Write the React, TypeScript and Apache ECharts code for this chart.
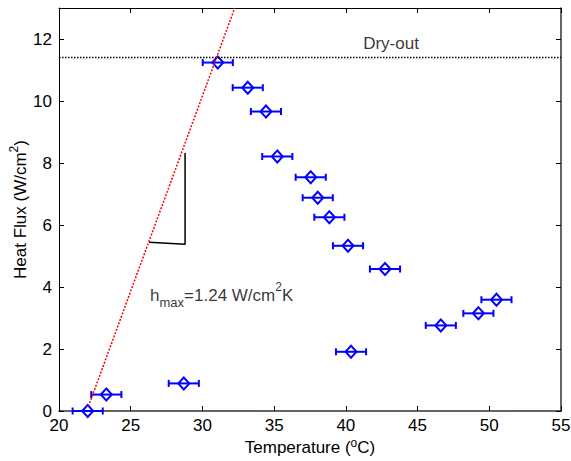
import React, { useEffect, useRef } from "react";
import * as echarts from "echarts";

// Measured data: temperature (°C) vs heat flux (W/cm²), horizontal error bars (°C)
const temperature = [22.0, 23.3, 28.7, 31.07, 33.16, 34.43, 35.22, 37.55, 38.04, 38.85, 40.15, 42.73, 50.5, 49.24, 46.62, 40.36];
const heatFlux = [0, 0.53, 0.89, 11.24, 10.43, 9.66, 8.21, 7.54, 6.88, 6.25, 5.33, 4.58, 3.59, 3.15, 2.76, 1.91];
const tempError = [1.05, 1.05, 1.05, 1.05, 1.05, 1.05, 1.05, 1.05, 1.05, 1.05, 1.05, 1.05, 1.05, 1.05, 1.05, 1.05];

// Linear fit (h_max) line endpoints
const fitLineX = [22.05, 32.25];
const fitLineY = [0.15, 13.0];

// Dry-out level
const dryOutFlux = 11.4;
const dryOutX = [20, 55];

// Slope triangle
const triangleX = [26.28, 28.79, 28.79];
const triangleY = [5.44, 5.38, 8.32];

// Annotation anchors
const dryOutLabelPos = [43.15, 11.4];
const hmaxLabelPos = [26.35, 3.74];

const xTicks = { min: 20, max: 55, interval: 5 };
const yTicks = { min: 0, max: 13, interval: 2 };

const FONT = "Liberation Sans, Arial, sans-serif";

export default function App() {
  const ref = useRef<HTMLDivElement>(null);
  useEffect(() => {
    if (!ref.current) return;
    const chart = echarts.init(ref.current, undefined, { renderer: "svg" });
    const pointData = temperature.map((t, i) => [t, heatFlux[i], tempError[i]]);
    const axisCommon = {
      type: "value" as const,
      splitLine: { show: false },
      axisTick: { show: true, inside: true, length: 5, lineStyle: { color: "#000", width: 1 } },
    };
    const xTitleStyle = {
      color: "#000",
      fontSize: 17,
      fontFamily: FONT,
      lineHeight: 20,
      rich: { sup: { fontSize: 12, verticalAlign: "top", lineHeight: 10, color: "#000", fontFamily: FONT } },
    };
    const yTitleStyle = {
      color: "#000",
      fontSize: 17,
      fontFamily: FONT,
      lineHeight: 24,
      rich: { sup: { fontSize: 12, verticalAlign: "top", lineHeight: 12, color: "#000", fontFamily: FONT } },
    };
    const option: any = {
      animation: false,
      textStyle: { fontFamily: FONT },
      grid: { left: 59, right: 10, top: 8, bottom: 50, containLabel: false, outerBoundsMode: "none" },
      xAxis: [
        {
          ...axisCommon,
          position: "bottom",
          min: xTicks.min,
          max: xTicks.max,
          interval: xTicks.interval,
          axisLine: { show: true, onZero: false, lineStyle: { color: "#333", width: 1.5 } },
          axisLabel: { color: "#000", fontSize: 17, lineHeight: 17, margin: 6, fontFamily: FONT },
          name: "Temperature ({sup|o}C)",
          nameLocation: "middle",
          nameGap: 26,
          nameMoveOverlap: false,
          nameTextStyle: xTitleStyle,
        },
        {
          ...axisCommon,
          position: "top",
          min: xTicks.min,
          max: xTicks.max,
          interval: xTicks.interval,
          axisLine: { show: true, onZero: false, lineStyle: { color: "#000", width: 1 } },
          axisLabel: { show: false },
        },
      ],
      yAxis: [
        {
          ...axisCommon,
          position: "left",
          min: yTicks.min,
          max: yTicks.max,
          interval: yTicks.interval,
          axisLine: { show: true, onZero: false, lineStyle: { color: "#000", width: 1 } },
          axisLabel: { color: "#000", fontSize: 17, margin: 7, showMaxLabel: false, fontFamily: FONT },
          name: "Heat Flux (W/cm{sup|2})",
          nameLocation: "middle",
          nameGap: 27,
          nameMoveOverlap: false,
          nameTextStyle: yTitleStyle,
        },
        {
          ...axisCommon,
          position: "right",
          min: yTicks.min,
          max: yTicks.max,
          interval: yTicks.interval,
          axisLine: { show: true, onZero: false, lineStyle: { color: "#333", width: 1.5 } },
          axisLabel: { show: false },
        },
      ],
      series: [
        {
          type: "line",
          data: dryOutX.map((x) => [x, dryOutFlux]),
          symbol: "none",
          lineStyle: { color: "#000", width: 1.5, type: [1.5, 1.5] },
          silent: true,
        },
        {
          type: "line",
          data: fitLineX.map((x, i) => [x, fitLineY[i]]),
          symbol: "none",
          lineStyle: { color: "#ff0000", width: 1.5, type: [2, 1.5] },
          silent: true,
        },
        {
          type: "line",
          data: triangleX.map((x, i) => [x, triangleY[i]]),
          symbol: "none",
          lineStyle: { color: "#000", width: 1.5 },
          silent: true,
        },
        {
          type: "custom",
          data: pointData,
          encode: { x: 0, y: 1 },
          renderItem: (params: any, api: any) => {
            const x = api.value(0);
            const y = api.value(1);
            const e = api.value(2);
            const l = api.coord([x - e, y]);
            const r = api.coord([x + e, y]);
            const cap = 3.5;
            const style = { stroke: "#0000ff", lineWidth: 2, fill: null };
            return {
              type: "group",
              children: [
                { type: "line", shape: { x1: l[0], y1: l[1], x2: r[0], y2: r[1] }, style },
                { type: "line", shape: { x1: l[0], y1: l[1] - cap, x2: l[0], y2: l[1] + cap }, style },
                { type: "line", shape: { x1: r[0], y1: r[1] - cap, x2: r[0], y2: r[1] + cap }, style },
              ],
            };
          },
          silent: true,
        },
        {
          type: "scatter",
          data: pointData.map((d) => [d[0], d[1]]),
          symbol: "diamond",
          symbolSize: [11, 12],
          itemStyle: { color: "rgba(0,0,0,0)", borderColor: "#0000ff", borderWidth: 2, opacity: 1 },
          silent: true,
        },
        {
          type: "scatter",
          data: [dryOutLabelPos],
          symbolSize: 0,
          silent: true,
          label: {
            show: true,
            position: "top",
            distance: 6,
            formatter: "Dry-out",
            color: "#000",
            fontSize: 17,
            fontFamily: FONT,
          },
        },
        {
          type: "scatter",
          data: [hmaxLabelPos],
          symbolSize: 0,
          silent: true,
          label: {
            show: true,
            position: "right",
            distance: 0,
            formatter: "h{sub|max}=1.24 W/cm{sup|2}K",
            color: "#000",
            fontSize: 17,
            fontFamily: FONT,
            lineHeight: 28,
            rich: {
              sub: { fontSize: 13, verticalAlign: "bottom", lineHeight: 10, color: "#000", fontFamily: FONT },
              sup: { fontSize: 12, verticalAlign: "top", lineHeight: 14, color: "#000", fontFamily: FONT },
            },
          },
        },
      ],
    };
    chart.setOption(option);
    return () => chart.dispose();
  }, []);
  return (
    <div
      ref={ref}
      style={{ position: "fixed", left: 0, top: 0, width: 571, height: 461, background: "#fff" }}
    />
  );
}
